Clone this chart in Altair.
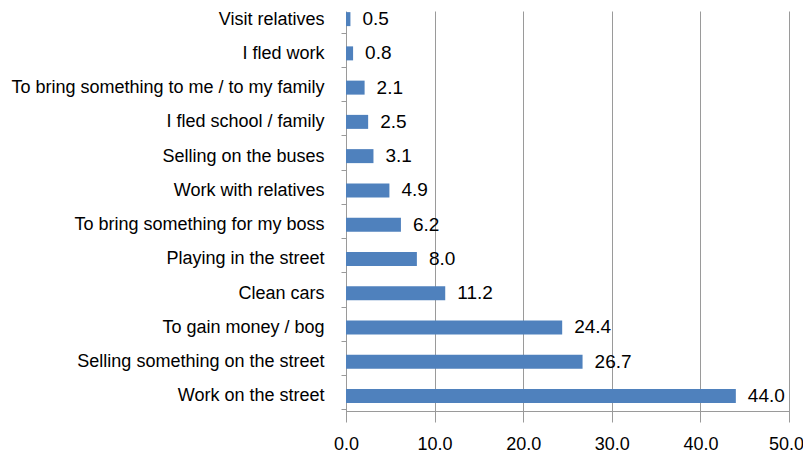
import altair as alt
import pandas as pd

categories = [
    "Visit relatives",
    "I fled work",
    "To bring something to me / to my family",
    "I fled school / family",
    "Selling on the buses",
    "Work with relatives",
    "To bring something for my boss",
    "Playing in the street",
    "Clean cars",
    "To gain money / bog",
    "Selling something on the street",
    "Work on the street",
]
values = [0.5, 0.8, 2.1, 2.5, 3.1, 4.9, 6.2, 8.0, 11.2, 24.4, 26.7, 44.0]
x_ticks = [0, 10, 20, 30, 40, 50]

df = pd.DataFrame({"cat": categories, "val": values})

FONT = "Liberation Sans"
GREY = "#9a9a9a"

y_enc = alt.Y(
    "cat:N",
    sort=categories,
    scale=alt.Scale(range=[-11, 400]),
    axis=alt.Axis(
        title=None,
        domain=False,
        ticks=True,
        tickBand="extent",
        tickSize=5,
        tickColor=GREY,
        labelPadding=17,
        labelOffset=2,
        labelFont=FONT,
        labelFontSize=18,
        labelColor="#000000",
        labelLimit=400,
        grid=False,
    ),
)

x_enc = alt.X(
    "val:Q",
    scale=alt.Scale(domain=[0, 50], nice=False, zero=True),
    axis=alt.Axis(
        title=None,
        values=x_ticks,
        format=".1f",
        grid=True,
        gridColor=GREY,
        gridOpacity=1,
        gridWidth=1,
        domainColor=GREY,
        tickColor=GREY,
        tickSize=7,
        labelPadding=17,
        labelOffset={"condition": {"test": "datum.value == 50", "value": -3}, "value": 0},
        labelFont=FONT,
        labelFontSize=18,
        labelColor="#000000",
        labelFlush=False,
    ),
)

bars = alt.Chart(df).mark_bar(color="#4F81BD", size=14, yOffset=2).encode(
    x=x_enc, y=y_enc
)

labels = alt.Chart(df).mark_text(
    align="left", baseline="middle", dx=12, yOffset=2,
    font=FONT, fontSize=19, color="#000000"
).encode(
    x=alt.X("val:Q"),
    y=alt.Y("cat:N", sort=categories),
    text=alt.Text("val:Q", format=".1f"),
)

chart = (
    alt.layer(bars, labels)
    .properties(
        width=443,
        height=400,
        autosize=alt.AutoSizeParams(type="none"),
        padding={"left": 338, "top": 3, "right": 14, "bottom": 42},
        background="white",
    )
    .configure_view(stroke=None)
)

chart.save("out.html", embed_options={"renderer": "svg", "actions": False})
